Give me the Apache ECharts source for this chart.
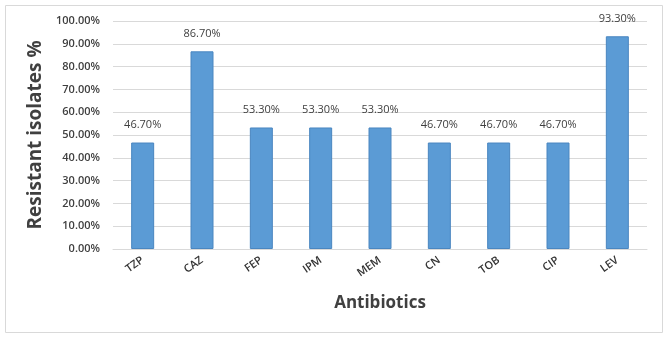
<!DOCTYPE html>
<html>
<head>
<meta charset="utf-8">
<script src="https://cdn.jsdelivr.net/npm/echarts@6/dist/echarts.min.js"></script>
<style>
  html, body { margin: 0; padding: 0; background: #fff; }
  #chart { width: 669px; height: 338px; }
</style>
</head>
<body>
<div id="chart"></div>
<script>
// antibiotic names along the x axis
const antibiotics = ["TZP", "CAZ", "FEP", "IPM", "MEM", "CN", "TOB", "CIP", "LEV"];
// resistant isolates, percent
const resistant = [46.7, 86.7, 53.3, 53.3, 53.3, 46.7, 46.7, 46.7, 93.3];

const FONT = "Open Sans";

const chart = echarts.init(document.getElementById("chart"));

chart.setOption({
  animation: false,
  textStyle: { fontFamily: FONT },
  graphic: [{
    type: "rect",
    shape: { x: 5.5, y: 5.5, width: 657, height: 327 },
    style: { fill: "none", stroke: "#d9d9d9", lineWidth: 1 },
    silent: true
  }],
  grid: { left: 113, right: 22, top: 21, bottom: 89 },
  xAxis: {
    type: "category",
    data: antibiotics,
    name: "Antibiotics",
    nameLocation: "middle",
    nameGap: 46,
    nameTextStyle: { fontSize: 17, fontWeight: "bold", color: "#404040", fontFamily: FONT },
    axisLine: { lineStyle: { color: "#d9d9d9" } },
    axisTick: { show: false },
    axisLabel: {
      rotate: 35,
      margin: 10,
      fontSize: 11,
      fontWeight: 600,
      color: "#333333",
      interval: 0
    }
  },
  yAxis: {
    type: "value",
    min: 0,
    max: 100,
    interval: 10,
    name: "Resistant isolates %",
    nameLocation: "middle",
    nameGap: 66,
    nameTextStyle: { fontSize: 19, fontWeight: "bold", color: "#404040", fontFamily: FONT },
    axisLine: { show: false },
    axisTick: { show: false },
    splitLine: { lineStyle: { color: "#d9d9d9" } },
    axisLabel: {
      fontSize: 11,
      fontWeight: 600,
      color: "#404040",
      margin: 13,
      formatter: v => v.toFixed(2) + "%"
    }
  },
  series: [{
    type: "bar",
    data: resistant,
    barWidth: 23,
    itemStyle: { color: "#5b9bd5", borderColor: "#4a86c0", borderWidth: 1 },
    label: {
      show: true,
      position: "top",
      distance: 12,
      fontSize: 11,
      color: "#404040",
      formatter: p => p.value.toFixed(2) + "%"
    }
  }]
});
</script>
</body>
</html>
